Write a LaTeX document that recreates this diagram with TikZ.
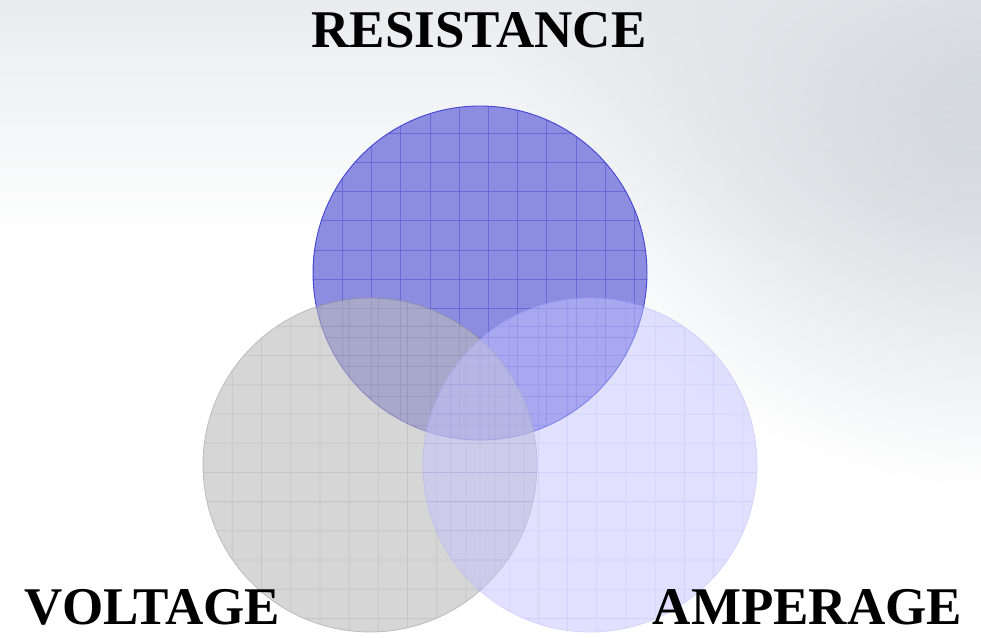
\documentclass[tikz,border=0pt]{standalone}
\usepackage{fontspec}
\setmainfont{Liberation Serif}
\usepackage{xcolor}
\definecolor{vennBlue}{HTML}{8C8CE1}
\definecolor{vennBlueLine}{HTML}{4444D2}
\definecolor{vennBlueGrid}{HTML}{6A6AD6}
\definecolor{vennGray}{HTML}{BBBBBB}
\definecolor{vennGrayLine}{HTML}{909090}
\definecolor{vennGrayGrid}{HTML}{A0A0A0}
\definecolor{vennLilac}{HTML}{C4C4FF}
\definecolor{vennLilacLine}{HTML}{A8A8FF}
\definecolor{vennLilacGrid}{HTML}{A6A6FF}
\definecolor{bgShade}{HTML}{BCC3CB}
\definecolor{bgTop}{HTML}{E4E7EA}
\usetikzlibrary{positioning,fadings}

\begin{document}
\begin{tikzpicture}[x=1pt, y=1pt,
    label/.style={inner sep=0pt, font=\bfseries\fontsize{53}{60}\selectfont, text=black},
    disc/.style={circle, minimum size=334pt, inner sep=0pt}
  ]
    \useasboundingbox (0,0) rectangle (981,637);
    % background
    \fill[white] (-2,-2) rectangle (983,639);
    \begin{scope}
      \clip (-2,-2) rectangle (983,639);
      \shade[inner color=bgShade, outer color=white] (990,645) circle (500pt);
      \fill[bgTop, path fading=south, opacity=0.8] (-2,400) rectangle (983,639);
    \end{scope}

    \node[disc] (resistance) at (480,364) {};
    \node[disc] (voltage) at (370,172) {};
    \node[disc] (amperage) at (590,172) {};

    % resistance circle
    \fill[vennBlue] (resistance) circle (167pt);
    \begin{scope}
      \clip (resistance) circle (167pt);
      \draw[vennBlueGrid, line width=0.8pt, shift={(21.2,7.3)}, step=29.2pt] (260,150) grid (720,600);
    \end{scope}
    \draw[vennBlueLine, line width=0.9pt] (resistance) circle (167pt);

    % voltage circle
    \begin{scope}[opacity=0.6, transparency group]
      \fill[vennGray] (voltage) circle (167pt);
      \begin{scope}
        \clip (voltage) circle (167pt);
        \draw[vennGrayGrid, line width=0.8pt, shift={(27.9,18.6)}, step=29.2pt] (150,-20) grid (600,400);
      \end{scope}
      \draw[vennGrayLine, line width=0.8pt] (voltage) circle (167pt);
    \end{scope}

    % amperage circle
    \begin{scope}[opacity=0.5, transparency group]
      \fill[vennLilac] (amperage) circle (167pt);
      \begin{scope}
        \clip (amperage) circle (167pt);
        \draw[vennLilacGrid, line width=0.8pt, shift={(12.8,18.6)}, step=29.2pt] (380,-20) grid (820,400);
      \end{scope}
      \draw[vennLilacLine, line width=0.8pt] (amperage) circle (167pt);
    \end{scope}

    \node[label] (resLabel) at (479,606.5) {RESISTANCE};
    \node[label] (voltLabel) at (152.5,29.5) {VOLTAGE};
    \node[label] (ampLabel) at (807.5,29.5) {AMPERAGE};
  \end{tikzpicture}
\end{document}
